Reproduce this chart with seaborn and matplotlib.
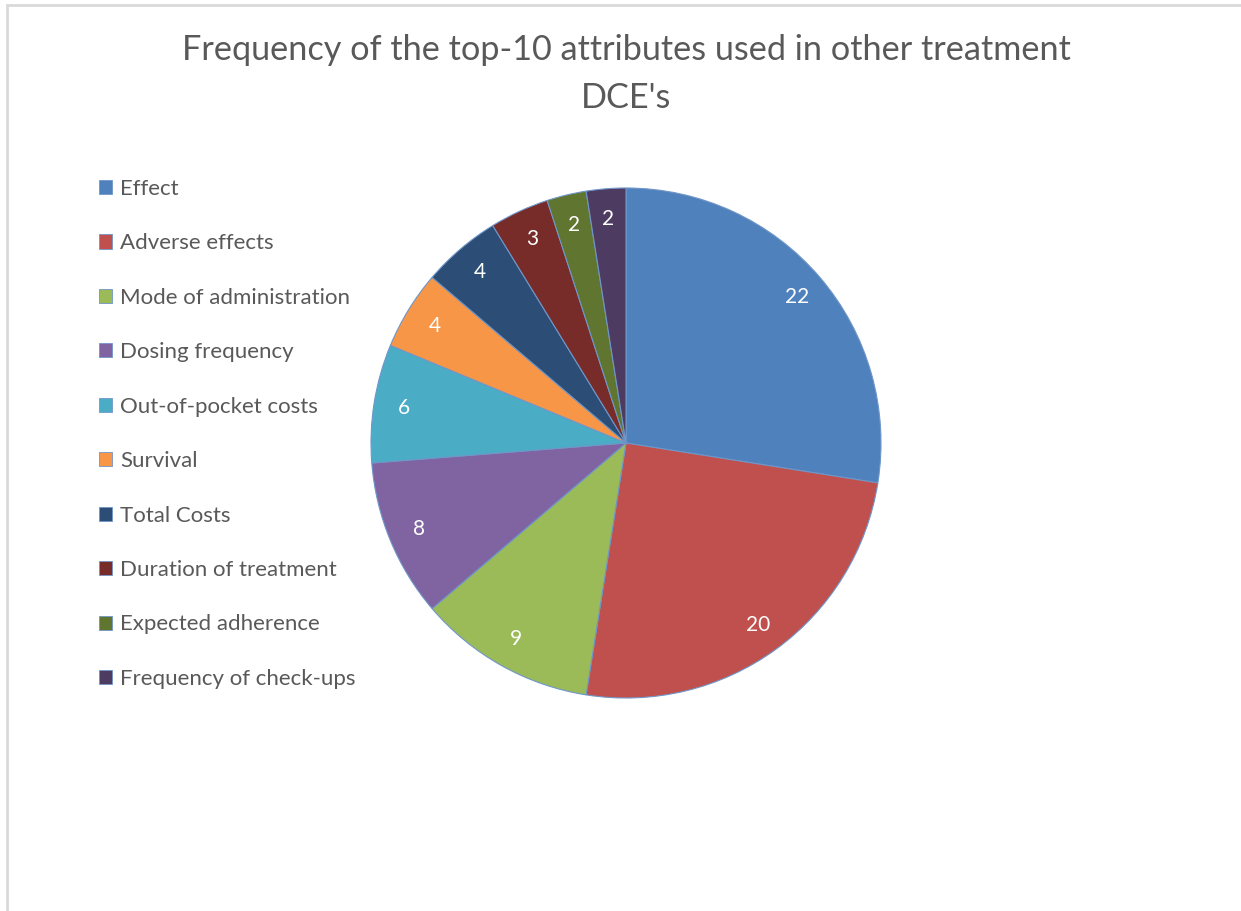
import matplotlib
matplotlib.use("Agg")
import matplotlib.pyplot as plt
import seaborn as sns
from matplotlib.patches import Patch, Rectangle

categories = ["Effect", "Adverse effects", "Mode of administration", "Dosing frequency",
              "Out-of-pocket costs", "Survival", "Total Costs", "Duration of treatment",
              "Expected adherence", "Frequency of check-ups"]
values = [22, 20, 9, 8, 6, 4, 4, 3, 2, 2]
slice_colors = ["#4F81BD", "#C0504D", "#9BBB59", "#8064A2", "#4BACC6",
                "#F79646", "#2C4D75", "#772C2A", "#5F7530", "#4D3B62"]
title = "Frequency of the top-10 attributes used in other treatment\nDCE's"

sns.set_theme(style="white")
plt.rcParams['font.family'] = ['Lato', 'DejaVu Sans']
palette = sns.color_palette(slice_colors)

W, H = 1241, 911
fig = plt.figure(figsize=(W / 100, H / 100), dpi=100)
fig.patch.set_facecolor("white")

# light frame (left and top edges visible)
fig.add_artist(Rectangle((7 / W, -0.1), 1.2, 1 - 5 / H + 0.1, transform=fig.transFigure,
                         fill=False, edgecolor="#d9d9d9", linewidth=2))

cx, cy, r = 626, 443, 255
ax = fig.add_axes([(cx - r) / W, (H - cy - r) / H, 2 * r / W, 2 * r / H])
wedges, texts = ax.pie(values, colors=palette, startangle=90, counterclock=False,
                       labels=[str(v) for v in values], labeldistance=0.88,
                       wedgeprops=dict(edgecolor="#6f96c8", linewidth=0.8),
                       textprops=dict(color="white", fontsize=15))
for t in texts:
    t.set_ha("center"); t.set_va("center")
ax.set_xlim(-1, 1); ax.set_ylim(-1, 1)
ax.set_aspect("equal")
ax.axis("off")

fig.text(cx / W, 1 - 74 / H, title, ha="center", va="center", fontsize=24.7,
         color="#595959", linespacing=1.6)

handles = [Patch(facecolor=c, edgecolor="#6f96c8", linewidth=0.6) for c in palette]
leg = fig.legend(handles, categories, loc="upper left", bbox_to_anchor=(90 / W, 1 - 170 / H),
                 frameon=False, fontsize=16, labelcolor="#595959", handlelength=0.6,
                 handleheight=0.6, handletextpad=0.35, labelspacing=1.55, borderaxespad=0)

fig.savefig("out.png", dpi=100)
